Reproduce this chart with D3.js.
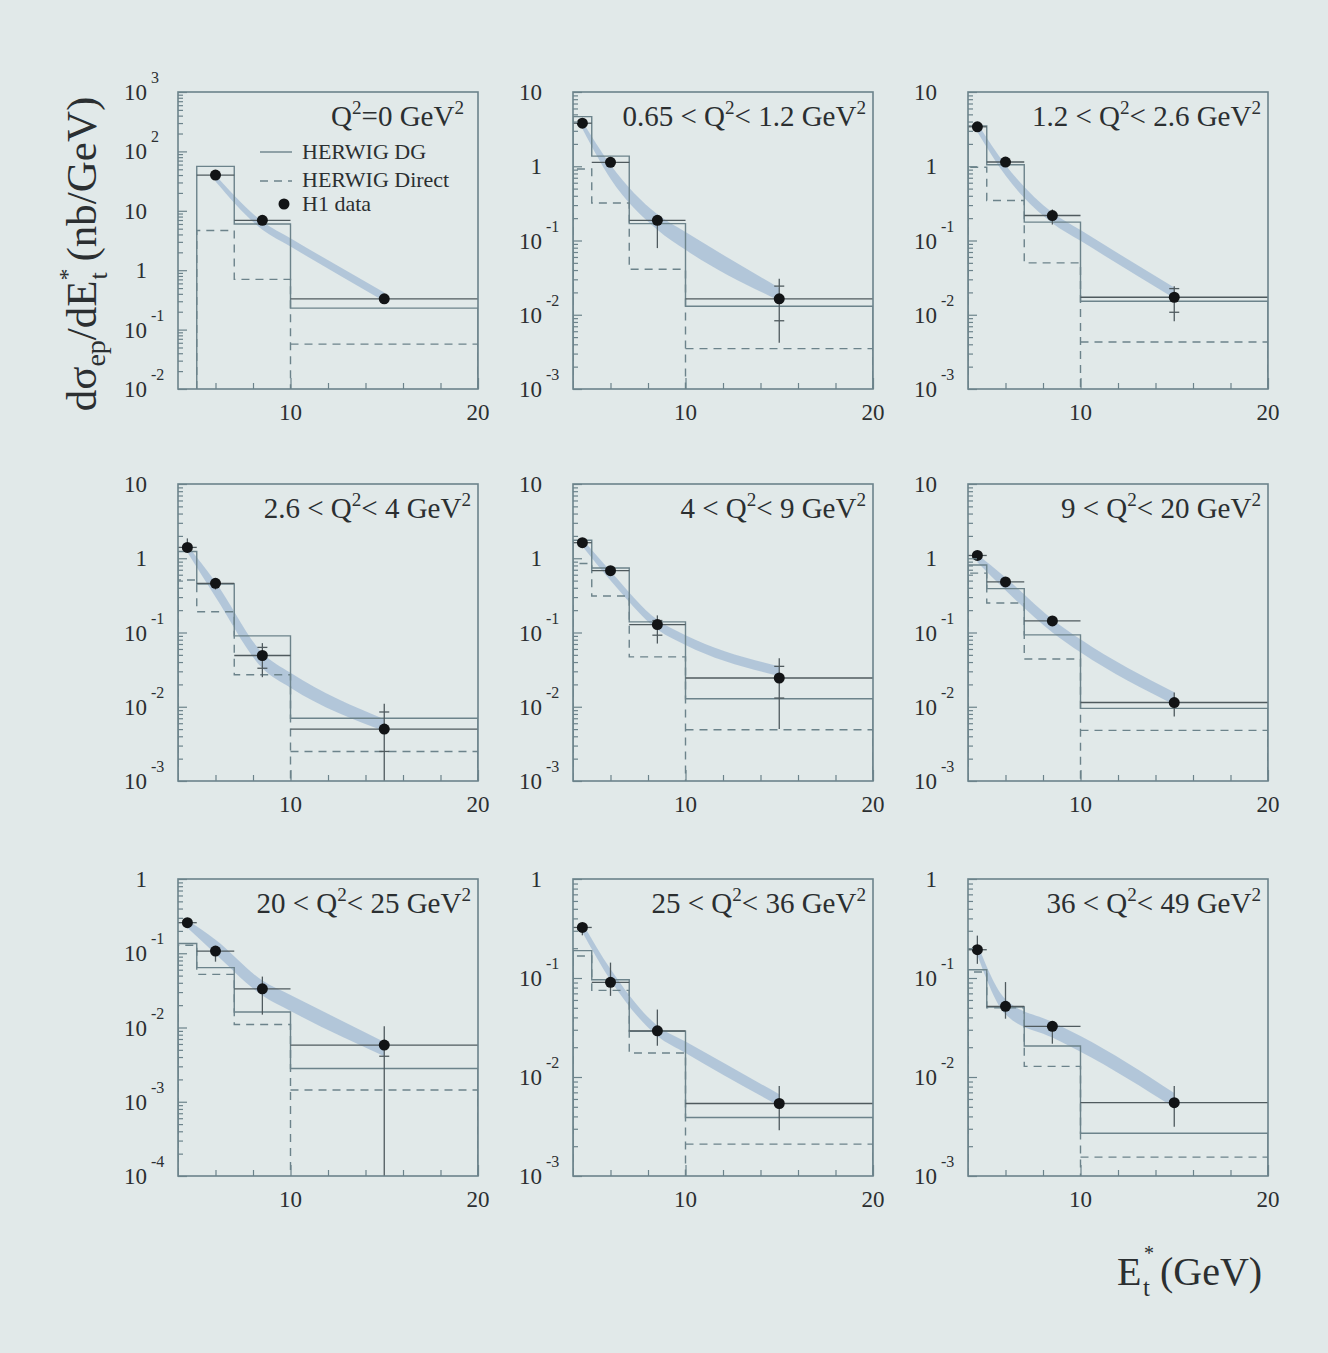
<!DOCTYPE html>
<html>
<head>
<meta charset="utf-8">
<script src="https://cdn.jsdelivr.net/npm/d3@7"></script>
<style>
  body { margin: 0; background: #e1e9e9; }
  svg { display: block; }
  text { font-family: "Liberation Serif", "Times New Roman", serif; fill: #2b2f31; }
</style>
</head>
<body>
<svg id="chart" width="1328" height="1353"></svg>
<script>
// panel titles, "^x" is a superscript x
const titles = [
  "Q^2=0 GeV^2", "0.65 < Q^2< 1.2 GeV^2", "1.2 < Q^2< 2.6 GeV^2",
  "2.6 < Q^2< 4 GeV^2", "4 < Q^2< 9 GeV^2", "9 < Q^2< 20 GeV^2",
  "20 < Q^2< 25 GeV^2", "25 < Q^2< 36 GeV^2", "36 < Q^2< 49 GeV^2"
]
// y range of each panel as powers of ten [bottom, top]
const yDecades = [[-2, 3], [-3, 1], [-3, 1], [-3, 1], [-3, 1], [-3, 1], [-4, 0], [-3, 0], [-3, 0]]
const xDomain = [4, 20]
const xMinorTicks = [6, 8, 12, 14, 16, 18]
const xMajorTicks = [10, 20]

// E_t bin edges (GeV)
const binEdges = [
  [5, 7, 10, 20], [4, 5, 7, 10, 20], [4, 5, 7, 10, 20],
  [4, 5, 7, 10, 20], [4, 5, 7, 10, 20], [4, 5, 7, 10, 20],
  [4, 5, 7, 10, 20], [4, 5, 7, 10, 20], [4, 5, 7, 10, 20]
]
// H1 data (nb/GeV)
const h1Values = [
  [40, 6.9, 0.33], [3.8, 1.13, 0.187, 0.0164], [3.4, 1.14, 0.217, 0.0172],
  [1.40, 0.46, 0.049, 0.005], [1.62, 0.68, 0.128, 0.0244], [1.09, 0.48, 0.143, 0.0114],
  [0.258, 0.107, 0.0332, 0.0058], [0.324, 0.0905, 0.0293, 0.0054], [0.193, 0.0517, 0.0325, 0.0055]
]
const h1ErrUp = [
  [44, 7.5, 0.36], [4.2, 1.25, 0.215, 0.0306], [3.7, 1.25, 0.262, 0.0242],
  [1.85, 0.54, 0.072, 0.011], [1.8, 0.75, 0.17, 0.045], [1.2, 0.53, 0.155, 0.0155],
  [0.28, 0.122, 0.0485, 0.0104], [0.35, 0.143, 0.048, 0.0081], [0.268, 0.091, 0.0365, 0.0081]
]
const h1ErrDown = [
  [36, 6.3, 0.30], [3.4, 1.02, 0.079, 0.0042], [3.1, 1.0, 0.164, 0.0082],
  [1.2, 0.38, 0.025, 0.0005], [1.45, 0.61, 0.071, 0.005], [1.0, 0.44, 0.13, 0.0074],
  [0.235, 0.077, 0.0149, 0.0001], [0.27, 0.066, 0.0207, 0.0029], [0.139, 0.0388, 0.0217, 0.00315]
]
// inner (statistical) ticks on the error bars, null where not drawn
const h1StatUp = [
  [null, null, null], [null, null, null, 0.0243], [null, null, null, 0.0225],
  [null, null, 0.063, 0.0085], [null, null, 0.145, 0.035], [null, null, null, null],
  [null, null, null, null], [null, null, null, null], [null, null, null, null]
]
const h1StatDown = [
  [null, null, null], [null, null, null, 0.0083], [null, null, null, 0.0108],
  [null, null, 0.033, 0.0025], [null, null, 0.092, 0.0131], [null, null, null, null],
  [null, null, null, 0.0041], [null, null, null, null], [null, null, null, null]
]
// HERWIG DG (solid) and HERWIG Direct (dashed)
const dgValues = [
  [56, 6.0, 0.23], [4.66, 1.37, 0.169, 0.013], [3.5, 1.05, 0.177, 0.0152],
  [1.23, 0.45, 0.09, 0.0070], [1.75, 0.74, 0.139, 0.0128], [0.81, 0.39, 0.093, 0.0095],
  [0.135, 0.064, 0.0162, 0.0028], [0.189, 0.096, 0.029, 0.0039], [0.121, 0.051, 0.0206, 0.0027]
]
const directValues = [
  [4.65, 0.70, 0.057], [0.92, 0.32, 0.041, 0.0035], [0.97, 0.346, 0.05, 0.0043],
  [0.51, 0.19, 0.027, 0.0025], [0.85, 0.31, 0.047, 0.0049], [0.63, 0.25, 0.044, 0.0048],
  [0.128, 0.052, 0.011, 0.00144], [0.167, 0.075, 0.0175, 0.0021], [0.115, 0.05, 0.0128, 0.00155]
]
// shaded calculation band
const bandX = [
  [6, 8.5, 10, 15], [4.5, 6, 8.5, 10, 15], [4.5, 6, 8.5, 10, 15],
  [4.5, 6, 8.5, 10, 15], [4.5, 6, 8.5, 10, 15], [4.5, 6, 8.5, 10, 15],
  [4.5, 6, 8.5, 10, 15], [4.5, 6, 8.5, 10, 15], [4.5, 6, 8.5, 10, 15]
]
const bandLo = [
  [31, 4.8, 2.5, 0.30], [3.2, 0.68, 0.14, 0.075, 0.0155], [2.9, 0.75, 0.171, 0.099, 0.0167],
  [1.2, 0.30, 0.033, 0.018, 0.0047], [1.45, 0.5, 0.11, 0.068, 0.026], [0.88, 0.37, 0.1, 0.054, 0.0106],
  [0.22, 0.098, 0.027, 0.0167, 0.0041], [0.29, 0.095, 0.026, 0.0175, 0.0051], [0.17, 0.043, 0.025, 0.018, 0.0049]
]
const bandHi = [
  [40, 6.6, 3.45, 0.42], [4.0, 1.05, 0.225, 0.13, 0.023], [3.8, 1.05, 0.238, 0.138, 0.0232],
  [1.5, 0.48, 0.053, 0.0286, 0.0068], [1.8, 0.67, 0.148, 0.092, 0.035], [1.12, 0.55, 0.15, 0.081, 0.0157],
  [0.28, 0.152, 0.043, 0.0275, 0.0064], [0.36, 0.123, 0.033, 0.0228, 0.0067], [0.22, 0.061, 0.036, 0.026, 0.0069]
]
const legendLabels = ["HERWIG DG", "HERWIG Direct", "H1 data"]

// layout
const colLeft = [178, 573, 968]
const rowTop = [92, 484, 879]
const panelW = 300, panelH = 297
const lineCol = "#6c838b", bandCol = "#adc2d7", dotCol = "#121416"

const svg = d3.select("#chart")

// writes "a^2b" as text with raised tspans
let richText = (sel, str, size) => {
  let parts = str.split(/\^(.)/)
  let rise = size * 0.42
  let up = false
  parts.forEach((p, i) => {
    if (p === "") return
    let sup = i % 2 == 1
    let t = sel.append("tspan").text(p)
    if (sup) {
      t.attr("font-size", size * 0.66).attr("dy", -rise)
      up = true
    } else {
      t.attr("font-size", size)
      if (up) { t.attr("dy", rise); up = false }
    }
  })
}

titles.forEach((title, k) => {
  let left = colLeft[k % 3], top = rowTop[Math.floor(k / 3)]
  let bottom = top + panelH
  let x = d3.scaleLinear().domain(xDomain).range([left, left + panelW])
  let [lo, hi] = yDecades[k]
  let y = d3.scaleLog().domain([Math.pow(10, lo), Math.pow(10, hi)]).range([bottom, top])
  let g = svg.append("g")

  g.append("clipPath").attr("id", "clip" + k)
    .append("rect").attr("x", left).attr("y", top).attr("width", panelW).attr("height", panelH)
  let inner = g.append("g").attr("clip-path", `url(#clip${k})`)

  // band
  let band = bandX[k].map((v, i) => ({ x: v, lo: bandLo[k][i], hi: bandHi[k][i] }))
  inner.append("path").datum(band)
    .attr("fill", bandCol).attr("opacity", 0.9)
    .attr("d", d3.area().x(d => x(d.x)).y0(d => y(d.lo)).y1(d => y(d.hi)).curve(d3.curveMonotoneX))

  let edges = binEdges[k]
  // step histogram, the dashed one drops to the axis at 10 GeV
  let stepPath = (vals, split) => {
    let p = d3.path()
    p.moveTo(x(edges[0]), bottom)
    vals.forEach((v, i) => {
      if (split && edges[i] === 10 && i > 0) {
        p.lineTo(x(10), bottom)
        p.moveTo(x(10), y(v))
      } else {
        p.lineTo(x(edges[i]), y(v))
      }
      p.lineTo(x(edges[i + 1]), y(v))
    })
    p.lineTo(x(edges[edges.length - 1]), bottom)
    return p.toString()
  }
  inner.append("path").attr("d", stepPath(directValues[k], true))
    .attr("fill", "none").attr("stroke", lineCol).attr("stroke-width", 1.4)
    .attr("stroke-dasharray", "8,6")
  inner.append("path").attr("d", stepPath(dgValues[k], false))
    .attr("fill", "none").attr("stroke", lineCol).attr("stroke-width", 1.4)

  // data
  let pts = h1Values[k].map((v, i) => ({
    x0: edges[i], x1: edges[i + 1], xc: (edges[i] + edges[i + 1]) / 2, v: v,
    up: h1ErrUp[k][i], dn: h1ErrDown[k][i], su: h1StatUp[k][i], sd: h1StatDown[k][i]
  }))
  let pg = inner.append("g").attr("stroke", "#4f5a5e").attr("stroke-width", 1.3)
  pg.selectAll(".xerr").data(pts).join("line")
    .attr("x1", d => x(d.x0)).attr("x2", d => x(d.x1))
    .attr("y1", d => y(d.v)).attr("y2", d => y(d.v))
  pg.selectAll(".yerr").data(pts).join("line")
    .attr("x1", d => x(d.xc)).attr("x2", d => x(d.xc))
    .attr("y1", d => y(d.dn)).attr("y2", d => y(d.up))
  let ticks = []
  pts.forEach(d => {
    if (d.su != null) ticks.push({ xc: d.xc, v: d.su })
    if (d.sd != null) ticks.push({ xc: d.xc, v: d.sd })
  })
  pg.selectAll(".stat").data(ticks).join("line")
    .attr("x1", d => x(d.xc) - 5).attr("x2", d => x(d.xc) + 5)
    .attr("y1", d => y(d.v)).attr("y2", d => y(d.v))
  inner.selectAll("circle").data(pts).join("circle")
    .attr("cx", d => x(d.xc)).attr("cy", d => y(d.v)).attr("r", 5.5)
    .attr("fill", dotCol)

  // frame
  g.append("rect").attr("x", left).attr("y", top).attr("width", panelW).attr("height", panelH)
    .attr("fill", "none").attr("stroke", lineCol).attr("stroke-width", 1.6)

  // y ticks
  let majors = d3.range(lo, hi + 1).map(d => Math.pow(10, d))
  let minors = []
  d3.range(lo, hi).forEach(d => { for (let m = 2; m < 10; m++) minors.push(m * Math.pow(10, d)) })
  let ax = g.append("g").attr("transform", `translate(${left},0)`)
    .call(d3.axisLeft(y).tickValues(majors).tickSize(-9).tickFormat(""))
  let axm = g.append("g").attr("transform", `translate(${left},0)`)
    .call(d3.axisLeft(y).tickValues(minors).tickSize(-5).tickFormat(""))
  let bx = g.append("g").attr("transform", `translate(0,${bottom})`)
    .call(d3.axisBottom(x).tickValues(xMinorTicks).tickSize(-6).tickFormat(""))
  let bxm = g.append("g").attr("transform", `translate(0,${bottom})`)
    .call(d3.axisBottom(x).tickValues(xMajorTicks).tickSize(-11).tickFormat(""))
  ;[ax, axm, bx, bxm].forEach(a => {
    a.select(".domain").remove()
    a.selectAll("line").attr("stroke", lineCol).attr("stroke-width", 1.2)
  })

  // y labels
  d3.range(lo, hi + 1).forEach(d => {
    let yy = y(Math.pow(10, d))
    let t = g.append("text").attr("font-size", 23).attr("text-anchor", "end")
      .attr("x", left - 31).attr("y", yy + 8)
    if (d === 0) { t.text("1"); return }
    t.text("10")
    if (d !== 1) {
      g.append("text").attr("font-size", 16).attr("x", left - 27).attr("y", yy - 9)
        .text(String(d))
    }
  })
  // x labels
  g.selectAll(".xl").data(xMajorTicks).join("text")
    .attr("font-size", 23).attr("text-anchor", "middle")
    .attr("x", d => x(d)).attr("y", bottom + 31).text(d => d)

  // title
  let tt = g.append("text").attr("text-anchor", "end")
    .attr("x", left + panelW - (k === 0 ? 14 : 7)).attr("y", top + 34)
  richText(tt, title, 29)

  // legend in the first panel
  if (k === 0) {
    let lx = left + 82, tx = left + 124
    g.append("line").attr("x1", lx).attr("x2", lx + 32).attr("y1", top + 60).attr("y2", top + 60)
      .attr("stroke", lineCol).attr("stroke-width", 1.4)
    g.append("line").attr("x1", lx).attr("x2", lx + 32).attr("y1", top + 89).attr("y2", top + 89)
      .attr("stroke", lineCol).attr("stroke-width", 1.4).attr("stroke-dasharray", "8,6")
    g.append("circle").attr("cx", left + 106).attr("cy", top + 112).attr("r", 5.5).attr("fill", dotCol)
    legendLabels.forEach((s, i) => {
      g.append("text").attr("font-size", 22).attr("x", tx).attr("y", top + 67 + [0, 28, 52][i]).text(s)
    })
  }
})

// axis titles
let yt = svg.append("text").attr("text-anchor", "middle").attr("font-size", 43)
  .attr("transform", "translate(96,254) rotate(-90)")
yt.append("tspan").text("dσ")
yt.append("tspan").attr("font-size", 28).attr("dy", 9).text("ep")
yt.append("tspan").attr("dy", -9).text("/dE")
yt.append("tspan").attr("font-size", 24).attr("dy", -21).text("*")
yt.append("tspan").attr("font-size", 26).attr("dx", -11).attr("dy", 32).text("t")
yt.append("tspan").attr("dy", -11).text(" (nb/GeV)")

// x title: E with star above and t below, written as separate pieces
let xt = svg.append("g")
xt.append("text").attr("font-size", 40).attr("x", 1117).attr("y", 1285).text("E")
xt.append("text").attr("font-size", 20).attr("x", 1144).attr("y", 1260).text("*")
xt.append("text").attr("font-size", 25).attr("x", 1143).attr("y", 1296).text("t")
xt.append("text").attr("font-size", 40).attr("x", 1160).attr("y", 1285).text("(GeV)")
</script>
</body>
</html>
